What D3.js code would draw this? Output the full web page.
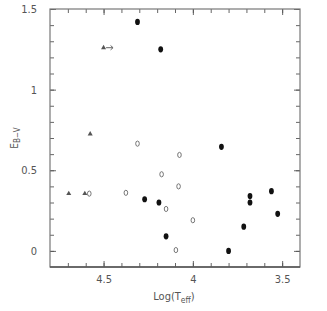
<!DOCTYPE html>
<html>
<head>
<meta charset="utf-8">
<script src="https://cdn.jsdelivr.net/npm/d3@7"></script>
<style>
  body { margin: 0; background: #fff; }
  svg text { font-family: "Liberation Sans Narrow", "DejaVu Sans Condensed", sans-serif; fill: #555; }
</style>
</head>
<body>
<div id="chart"></div>
<script>
// Log(Teff) vs E(B-V)
const filledX = [4.31, 4.18, 3.84, 4.27, 4.19, 4.15, 3.80, 3.715, 3.68, 3.68, 3.56, 3.525];
const filledY = [1.42, 1.25, 0.645, 0.32, 0.30, 0.09, 0.0, 0.15, 0.34, 0.30, 0.37, 0.23];

const openX = [4.31, 4.075, 4.175, 4.08, 4.375, 4.15, 4.0, 4.095, 4.58];
const openY = [0.665, 0.595, 0.475, 0.40, 0.36, 0.26, 0.19, 0.005, 0.355];

const triX = [4.695, 4.605, 4.575];
const triY = [0.355, 0.355, 0.725];

// triangle with arrow (limit)
const limX = [4.5];
const limY = [1.26];

const xMajor = [4.5, 4, 3.5];
const yMajor = [0, 0.5, 1, 1.5];

const width = 327, height = 311;
const svg = d3.select("#chart").append("svg")
    .attr("width", width)
    .attr("height", height);

const x = d3.scaleLinear().domain([4.8, 3.4]).range([50, 300]);
const y = d3.scaleLinear().domain([-0.1, 1.5]).range([267, 9]);

const xMinor = d3.range(35, 48).map(d => d / 10);
const yMinor = d3.range(0, 16).map(d => d / 10);

function styleAxis(g) {
    g.select(".domain").remove();
    g.selectAll(".tick line").attr("stroke", "#555").attr("stroke-width", 0.9);
    g.selectAll("text").attr("fill", "#666").style("font-size", "11px");
}

// minor ticks
svg.append("g").attr("transform", "translate(0,267)")
    .call(d3.axisBottom(x).tickValues(xMinor).tickSize(-4).tickFormat("")).call(styleAxis);
svg.append("g").attr("transform", "translate(0,9)")
    .call(d3.axisTop(x).tickValues(xMinor).tickSize(-4).tickFormat("")).call(styleAxis);
svg.append("g").attr("transform", "translate(50,0)")
    .call(d3.axisLeft(y).tickValues(yMinor).tickSize(-4).tickFormat("")).call(styleAxis);
svg.append("g").attr("transform", "translate(300,0)")
    .call(d3.axisRight(y).tickValues(yMinor).tickSize(-4).tickFormat("")).call(styleAxis);

// major ticks + labels
svg.append("g").attr("transform", "translate(0,267)")
    .call(d3.axisBottom(x).tickValues(xMajor).tickSize(-6).tickPadding(8).tickFormat(d3.format("~g")))
    .call(styleAxis);
svg.append("g").attr("transform", "translate(0,9)")
    .call(d3.axisTop(x).tickValues(xMajor).tickSize(-6).tickFormat("")).call(styleAxis);
svg.append("g").attr("transform", "translate(50,0)")
    .call(d3.axisLeft(y).tickValues(yMajor).tickSize(-6).tickPadding(13).tickFormat(d3.format("~g")))
    .call(styleAxis);
svg.append("g").attr("transform", "translate(300,0)")
    .call(d3.axisRight(y).tickValues(yMajor).tickSize(-6).tickFormat("")).call(styleAxis);

// frame
svg.append("rect")
    .attr("x", 50).attr("y", 9)
    .attr("width", 250).attr("height", 258)
    .attr("fill", "none")
    .attr("stroke", "#777")
    .attr("stroke-width", 1.2);
svg.append("line")
    .attr("x1", 50).attr("x2", 300).attr("y1", 267).attr("y2", 267)
    .attr("stroke", "#555").attr("stroke-width", 1.5);

// axis titles
svg.append("text")
    .attr("x", 174).attr("y", 300)
    .attr("text-anchor", "middle")
    .style("font-size", "11px")
    .html('Log(T<tspan dy="3" style="font-size:8.5px">eff</tspan><tspan dy="-3">)</tspan>');

svg.append("text")
    .attr("transform", "translate(18,138) rotate(-90)")
    .attr("text-anchor", "middle")
    .style("font-size", "10px")
    .html('E<tspan dy="2" style="font-size:8px">B\u2212V</tspan>');

// filled circles
svg.append("g").selectAll("ellipse")
    .data(filledX.map((d, i) => [d, filledY[i]]))
    .enter().append("ellipse")
    .attr("cx", d => x(d[0]))
    .attr("cy", d => y(d[1]))
    .attr("rx", 2.4).attr("ry", 3.1)
    .attr("fill", "#111");

// open circles
svg.append("g").selectAll("ellipse")
    .data(openX.map((d, i) => [d, openY[i]]))
    .enter().append("ellipse")
    .attr("cx", d => x(d[0]))
    .attr("cy", d => y(d[1]))
    .attr("rx", 1.8).attr("ry", 2.6)
    .attr("fill", "none")
    .attr("stroke", "#555")
    .attr("stroke-width", 0.8);

// triangles
const tri = d3.symbol().type(d3.symbolTriangle).size(11);
svg.append("g").selectAll("path")
    .data(triX.concat(limX).map((d, i) => [d, triY.concat(limY)[i]]))
    .enter().append("path")
    .attr("d", tri)
    .attr("transform", d => `translate(${x(d[0])},${y(d[1])})`)
    .attr("fill", "#555");

// arrow on the limit point
const lim = svg.append("g").selectAll("g")
    .data(limX.map((d, i) => [d, limY[i]]))
    .enter().append("g")
    .attr("transform", d => `translate(${x(d[0])},${y(d[1])})`);
lim.append("line")
    .attr("x1", 2.5).attr("x2", 9).attr("y1", 0).attr("y2", 0)
    .attr("stroke", "#555").attr("stroke-width", 0.9);
lim.append("path")
    .attr("d", "M7,-2.2L9.5,0L7,2.2")
    .attr("fill", "none").attr("stroke", "#555").attr("stroke-width", 0.9);
</script>
</body>
</html>
